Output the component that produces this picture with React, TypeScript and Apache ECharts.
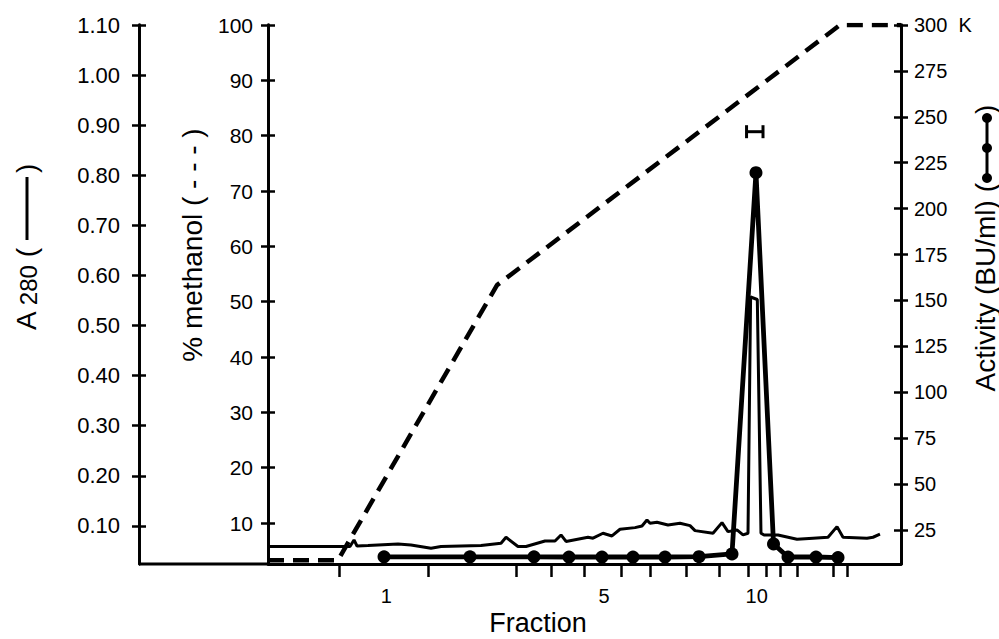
import React, { useEffect, useRef } from "react";
import * as echarts from "echarts";

// ---- data (x = elution position, arbitrary units 0..100) ----
const fractionBoundaries = [11.22, 25.28, 39.18, 44.71, 49.92, 55.77, 60.35, 66.03, 71.25, 75.83, 78.67, 80.88, 83.57, 89.26, 91.47];
const fractionLabelPos = [18.7, 53.1, 77.2];
const fractionLabels = ["1", "5", "10"];

const a280Ticks = [0.1, 0.2, 0.3, 0.4, 0.5, 0.6, 0.7, 0.8, 0.9, 1.0, 1.1];
const methanolTicks = [10, 20, 30, 40, 50, 60, 70, 80, 90, 100];
const activityTicks = [25, 50, 75, 100, 125, 150, 175, 200, 225, 250, 275, 300];

const a280X = [0, 11.85, 12.95, 13.59, 14.06, 15.8, 20.54, 22.59, 25.75, 27.33, 33.65, 36.81, 37.6, 39.49, 40.76, 43.76, 45.34, 46.29, 47.08, 50.55, 51.34, 52.92, 54.34, 55.61, 57.98, 59.08, 59.87, 60.35, 61.45, 63.19, 65.09, 66.67, 67.46, 70.3, 71.72, 72.67, 74.09, 75.04, 75.83, 76.24, 77.3, 77.88, 78.36, 80.57, 83.57, 86.1, 88.47, 89.89, 90.84, 94.63, 95.58, 96.68];
const a280Y = [0.059, 0.059, 0.059, 0.072, 0.06, 0.061, 0.064, 0.062, 0.0555, 0.059, 0.061, 0.0655, 0.0774, 0.059, 0.059, 0.07, 0.07, 0.082, 0.069, 0.0774, 0.0755, 0.0854, 0.08, 0.0934, 0.0966, 0.1, 0.112, 0.1054, 0.1074, 0.102, 0.1054, 0.1006, 0.0906, 0.0854, 0.1066, 0.0886, 0.092, 0.082, 0.0854, 0.557, 0.552, 0.0854, 0.082, 0.082, 0.0735, 0.0755, 0.0774, 0.0986, 0.0774, 0.0755, 0.0774, 0.0834];

const methanolX = [0, 11.06, 36.18, 90.36, 100];
const methanolY = [3.3, 3.3, 53.0, 100, 100];

const activityX = [18.33, 31.91, 42.02, 47.55, 52.76, 57.66, 62.72, 68.09, 73.3, 77.09, 79.86, 82.15, 86.57, 90.05];
const activityY = [10.4, 10.4, 10.4, 10.3, 10.3, 10.3, 10.3, 10.5, 12.0, 219.6, 17.4, 10.3, 10.3, 10.0];

// error bar above peak: [x low, x high, activity level]
const errorBar = [75.6, 78.2, 241.9];

const A280_MIN = 0.024;
const A280_MAX = 1.1;
const METH_MIN = 2.6;
const METH_MAX = 100;
const ACT_MIN = 6.5;
const ACT_MAX = 300;

const FONT = "'Liberation Sans', Arial, Helvetica, sans-serif";
const BLACK = "#000";

function makeAxisPair(
  position: "left" | "right",
  offset: number,
  min: number,
  max: number,
  ticks: number[],
  formatter: (v: number) => string,
  margin: number,
  fontSize: number
) {
  const tickStyle = { color: BLACK, width: 2.5 };
  const main = {
    type: "value",
    position,
    offset,
    min,
    max,
    splitLine: { show: false },
    axisLine: { show: true, onZero: false, lineStyle: { color: BLACK, width: 2.8 } },
    axisTick: { show: true, inside: false, length: 7, customValues: ticks, lineStyle: tickStyle },
    axisLabel: {
      show: true,
      customValues: ticks,
      formatter,
      margin,
      fontSize,
      fontFamily: FONT,
      color: BLACK,
    },
  };
  const inner = {
    type: "value",
    position,
    offset,
    min,
    max,
    splitLine: { show: false },
    axisLine: { show: true, onZero: false, lineStyle: { color: BLACK, width: 2.8 } },
    axisTick: { show: true, inside: true, length: 7, customValues: ticks, lineStyle: tickStyle },
    axisLabel: { show: false },
  };
  return [main, inner];
}

export default function App() {
  const ref = useRef<HTMLDivElement>(null);

  useEffect(() => {
    document.body.style.margin = "0";
    if (!ref.current) return;
    const chart = echarts.init(ref.current, null, { renderer: "svg" });

    const yAxes = [
      ...makeAxisPair("left", 129, A280_MIN, A280_MAX, a280Ticks, (v) => Number(v).toFixed(2), 19, 22),
      ...makeAxisPair("left", 0, METH_MIN, METH_MAX, methanolTicks, (v) => String(Math.round(v)), 15, 21),
      ...makeAxisPair(
        "right",
        0,
        ACT_MIN,
        ACT_MAX,
        activityTicks,
        (v) => (Math.round(v) === 300 ? "300  K" : String(Math.round(v))),
        13,
        20
      ),
    ];

    const option: any = {
      animation: false,
      backgroundColor: "#fff",
      grid: { left: 268, right: 98, top: 25, bottom: 75, containLabel: false },
      xAxis: {
        type: "value",
        min: 0,
        max: 100,
        splitLine: { show: false },
        axisLine: { show: true, onZero: false, lineStyle: { color: BLACK, width: 2.8 } },
        axisTick: {
          show: true,
          inside: false,
          length: 13,
          customValues: fractionBoundaries,
          lineStyle: { color: BLACK, width: 2.5 },
        },
        axisLabel: {
          show: true,
          customValues: fractionLabelPos,
          formatter: (v: number) => {
            let best = 0;
            for (let i = 1; i < fractionLabelPos.length; i++) {
              if (Math.abs(fractionLabelPos[i] - v) < Math.abs(fractionLabelPos[best] - v)) best = i;
            }
            return fractionLabels[best];
          },
          margin: 22,
          fontSize: 20,
          fontFamily: FONT,
          color: BLACK,
        },
      },
      yAxis: yAxes,
      series: [
        {
          type: "line",
          name: "A280",
          yAxisIndex: 0,
          data: a280X.map((x, i) => [x, a280Y[i]]),
          symbol: "none",
          lineStyle: { color: BLACK, width: 3 },
          z: 3,
        },
        {
          type: "line",
          name: "% methanol",
          yAxisIndex: 2,
          data: methanolX.map((x, i) => [x, methanolY[i]]),
          symbol: "none",
          lineStyle: { color: BLACK, width: 4.5, type: [16, 9] },
          z: 2,
        },
        {
          type: "line",
          name: "Activity",
          yAxisIndex: 4,
          data: activityX.map((x, i) => [x, activityY[i]]),
          symbol: "circle",
          symbolSize: 13,
          itemStyle: { color: BLACK },
          lineStyle: { color: BLACK, width: 4.8 },
          z: 4,
        },
        {
          type: "custom",
          name: "error",
          yAxisIndex: 4,
          data: [errorBar],
          renderItem: (params: any, api: any) => {
            const lo = api.coord([api.value(0), api.value(2)]);
            const hi = api.coord([api.value(1), api.value(2)]);
            const st = { stroke: BLACK, lineWidth: 3 };
            return {
              type: "group",
              children: [
                { type: "line", shape: { x1: lo[0], y1: lo[1], x2: hi[0], y2: hi[1] }, style: st },
                { type: "line", shape: { x1: lo[0], y1: lo[1] - 6.5, x2: lo[0], y2: lo[1] + 6.5 }, style: st },
                { type: "line", shape: { x1: hi[0], y1: hi[1] - 6.5, x2: hi[0], y2: hi[1] + 6.5 }, style: st },
              ],
            };
          },
          z: 5,
        },
      ],
      graphic: [
        {
          type: "line",
          shape: { x1: 139, y1: 564, x2: 268, y2: 564 },
          style: { stroke: BLACK, lineWidth: 2.8 },
        },
        {
          type: "text",
          x: 538,
          y: 623,
          style: {
            text: "Fraction",
            font: `27px ${FONT}`,
            fill: BLACK,
            textAlign: "center",
            textVerticalAlign: "middle",
          },
        },
        // A280 title
        {
          type: "text",
          x: 26,
          y: 248,
          rotation: Math.PI / 2,
          style: {
            text: "{a|A }{s|280}{a| (}",
            textAlign: "right",
            textVerticalAlign: "middle",
            fill: BLACK,
            rich: {
              a: { fontSize: 28, fontFamily: FONT, fill: BLACK, verticalAlign: "bottom" },
              s: { fontSize: 24, fontFamily: FONT, fill: BLACK, verticalAlign: "bottom" },
            },
          },
        },
        {
          type: "line",
          shape: { x1: 27, y1: 177, x2: 27, y2: 240 },
          style: { stroke: BLACK, lineWidth: 3 },
        },
        {
          type: "text",
          x: 26,
          y: 173,
          rotation: Math.PI / 2,
          style: {
            text: ")",
            font: `28px ${FONT}`,
            fill: BLACK,
            textAlign: "left",
            textVerticalAlign: "middle",
          },
        },
        // methanol title
        {
          type: "text",
          x: 192,
          y: 245,
          rotation: Math.PI / 2,
          style: {
            text: "% methanol ( - - - )",
            font: `28px ${FONT}`,
            fill: BLACK,
            textAlign: "center",
            textVerticalAlign: "middle",
          },
        },
        // activity title
        {
          type: "text",
          x: 985,
          y: 183,
          rotation: Math.PI / 2,
          style: {
            text: "Activity (BU/ml) (",
            font: `28px ${FONT}`,
            fill: BLACK,
            textAlign: "right",
            textVerticalAlign: "middle",
          },
        },
        {
          type: "group",
          x: 987,
          y: 148,
          children: [
            { type: "line", shape: { x1: 0, y1: -30, x2: 0, y2: 30 }, style: { stroke: BLACK, lineWidth: 3 } },
            { type: "circle", shape: { cx: 0, cy: -30, r: 5 }, style: { fill: BLACK } },
            { type: "circle", shape: { cx: 0, cy: 0, r: 5 }, style: { fill: BLACK } },
            { type: "circle", shape: { cx: 0, cy: 30, r: 5 }, style: { fill: BLACK } },
          ],
        },
        {
          type: "text",
          x: 985,
          y: 114,
          rotation: Math.PI / 2,
          style: {
            text: ")",
            font: `28px ${FONT}`,
            fill: BLACK,
            textAlign: "left",
            textVerticalAlign: "middle",
          },
        },
      ],
    };

    chart.setOption(option);
    return () => chart.dispose();
  }, []);

  return <div ref={ref} style={{ width: 999, height: 639 }} />;
}
